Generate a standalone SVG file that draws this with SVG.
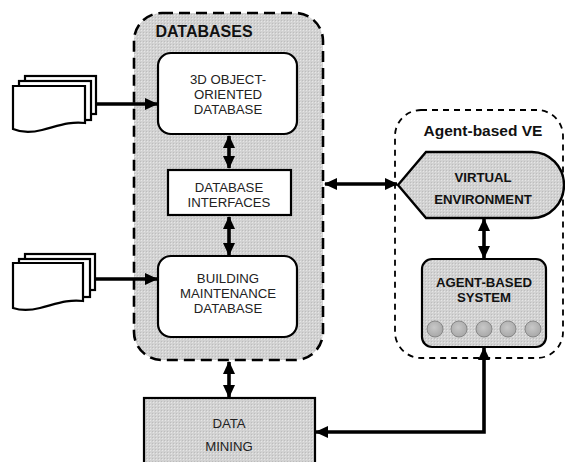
<svg xmlns="http://www.w3.org/2000/svg" width="565" height="462" viewBox="0 0 565 462">
<defs>
<pattern id="stip" width="3" height="3" patternUnits="userSpaceOnUse">
<rect width="3" height="3" fill="#d2d2d2"/>
<rect width="1" height="1" fill="#e6e6e6"/>
<rect x="2" y="2" width="1" height="1" fill="#bdbdbd"/>
</pattern>
<radialGradient id="ball" cx="0.45" cy="0.4" r="0.6">
<stop offset="0" stop-color="#c8c8c8"/>
<stop offset="1" stop-color="#a8a8a8"/>
</radialGradient>
<marker id="ah" markerWidth="13" markerHeight="12" refX="12" refY="6" orient="auto-start-reverse" markerUnits="userSpaceOnUse">
<path d="M0,0 L13,6 L0,12 Z" fill="#000"/>
</marker>
<style>
.lbl{font-family:"Liberation Sans",Arial,sans-serif;font-size:13.2px;fill:#222;text-anchor:middle}
.bld{font-family:"Liberation Sans",Arial,sans-serif;font-weight:bold;fill:#111;text-anchor:middle}
.box{stroke:#000;stroke-width:2.2}
.doc{fill:#fff;stroke:#000;stroke-width:2.2}
.con{fill:none;stroke:#000;stroke-width:3.6}
</style>
</defs>

<g id="databases">
<rect x="134" y="13" width="189" height="347" rx="28" fill="url(#stip)" stroke="#000" stroke-width="2.6" stroke-dasharray="11,6"/>
<text class="bld" x="204" y="37" font-size="16" >DATABASES</text>
</g>

<g id="obj-db">
<rect class="box" x="158" y="53" width="139" height="81" rx="13" fill="#fff"/>
<text class="lbl" x="228" y="84">3D OBJECT-</text>
<text class="lbl" x="228" y="99">ORIENTED</text>
<text class="lbl" x="228" y="114">DATABASE</text>
</g>

<g id="db-interfaces">
<rect class="box" x="168" y="170" width="123" height="45" fill="#fff"/>
<text class="lbl" x="229" y="192">DATABASE</text>
<text class="lbl" x="229" y="207">INTERFACES</text>
</g>

<g id="bm-db">
<rect class="box" x="158" y="256" width="139" height="81" rx="13" fill="#fff"/>
<text class="lbl" x="228" y="283">BUILDING</text>
<text class="lbl" x="228" y="298">MAINTENANCE</text>
<text class="lbl" x="228" y="313">DATABASE</text>
</g>

<g id="doc1">
<rect class="doc" x="25" y="76" width="71" height="38"/>
<rect class="doc" x="19" y="81" width="72" height="39"/>
<path class="doc" d="M13,86 H85 V123 C70,121 58,126 42,130 C30,133 20,132 13,129 Z"/>
</g>

<g id="doc2">
<rect class="doc" x="25" y="254" width="70" height="36"/>
<rect class="doc" x="19" y="259" width="71" height="38"/>
<path class="doc" d="M13,263 H83 V301 C68,299 56,304 40,308 C28,311 19,310 13,308 Z"/>
</g>

<g id="agent-ve">
<rect x="395" y="110" width="168" height="248" rx="26" fill="none" stroke="#000" stroke-width="1.8" stroke-dasharray="6,5"/>
<text class="bld" x="483" y="136" font-size="15.5">Agent-based VE</text>
</g>

<g id="virtual-env">
<path d="M398,185 L426,152 H532 A32,33 0 0 1 532,218 H426 Z" fill="url(#stip)" stroke="#000" stroke-width="2.4"/>
<text class="bld" x="483" y="182" font-size="13.2">VIRTUAL</text>
<text class="bld" x="483" y="204" font-size="13.2">ENVIRONMENT</text>
</g>

<g id="agent-system">
<rect class="box" x="422" y="259" width="124" height="88" rx="10" fill="url(#stip)" stroke-width="2.6"/>
<text class="bld" x="484" y="287" font-size="13.2">AGENT-BASED</text>
<text class="bld" x="484" y="302" font-size="13.2">SYSTEM</text>
<g fill="url(#ball)" stroke="#888" stroke-width="1">
<circle cx="435" cy="329" r="8"/>
<circle cx="459" cy="329" r="8"/>
<circle cx="484" cy="329" r="8"/>
<circle cx="508" cy="329" r="8"/>
<circle cx="533" cy="329" r="8"/>
</g>
</g>

<g id="data-mining">
<rect class="box" x="144" y="398" width="171" height="70" fill="url(#stip)"/>
<text class="lbl" x="229" y="428">DATA</text>
<text class="lbl" x="229" y="451">MINING</text>
</g>

<g id="connectors">
<line class="con" x1="96" y1="104" x2="157" y2="104" marker-end="url(#ah)"/>
<line class="con" x1="95" y1="279" x2="157" y2="279" marker-end="url(#ah)"/>
<line class="con" x1="229" y1="136" x2="229" y2="168" marker-start="url(#ah)" marker-end="url(#ah)"/>
<line class="con" x1="229" y1="217" x2="229" y2="255" marker-start="url(#ah)" marker-end="url(#ah)"/>
<line class="con" x1="229" y1="362" x2="229" y2="397" marker-start="url(#ah)" marker-end="url(#ah)"/>
<line class="con" x1="325" y1="184" x2="397" y2="184" marker-start="url(#ah)" marker-end="url(#ah)"/>
<line class="con" x1="484" y1="219" x2="484" y2="258" marker-start="url(#ah)" marker-end="url(#ah)"/>
<polyline class="con" points="484,348 484,432 316,432" marker-start="url(#ah)" marker-end="url(#ah)"/>
</g>
</svg>
